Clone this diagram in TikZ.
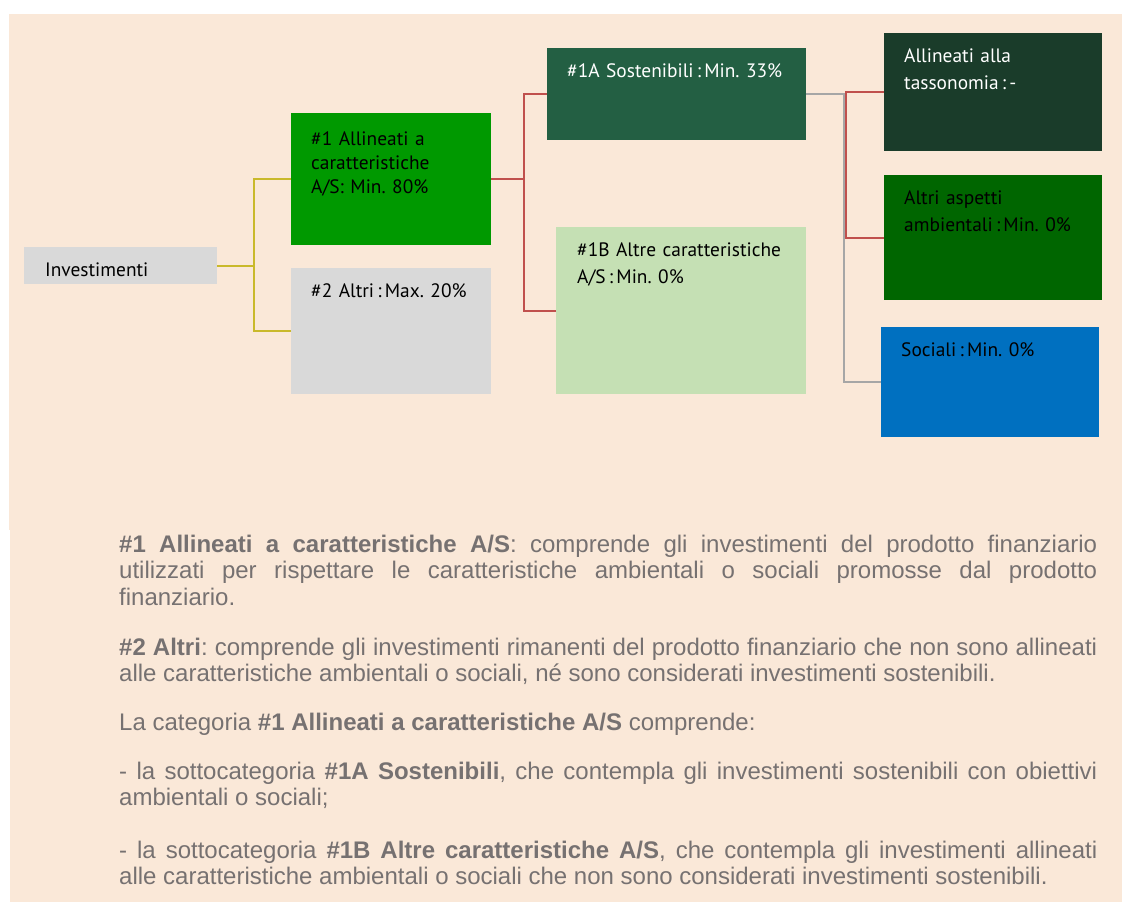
\documentclass[tikz,border=0pt]{standalone}
\usepackage{fontspec}
\setmainfont{Liberation Sans}
\newfontfamily\boxfont{PT Sans}
\definecolor{bgbeige}{HTML}{FAE8D8}
\definecolor{grone}{HTML}{009900}
\definecolor{grtwo}{HTML}{D9D9D9}
\definecolor{sosten}{HTML}{235F43}
\definecolor{altre}{HTML}{C5E0B4}
\definecolor{tasso}{HTML}{1A3C2A}
\definecolor{ambie}{HTML}{006600}
\definecolor{socia}{HTML}{0070C0}
\definecolor{lnyel}{HTML}{C9B92B}
\definecolor{lnred}{HTML}{C0504D}
\definecolor{lngry}{HTML}{A6A6A6}
\definecolor{txtgry}{HTML}{767171}
\frenchspacing
\begin{document}
\begin{tikzpicture}[x=1pt,y=-1pt,
    box/.style={anchor=north west, inner sep=0pt, draw=none},
    boxtxt/.style={anchor=base west, inner sep=0pt, align=left, text width=190pt,
        font={\boxfont\fontsize{19.4}{24}\selectfont}},
    para/.style={anchor=base west, inner sep=0pt, align=justify, text width=978pt, text=txtgry,
        font={\fontsize{24}{26.7}\selectfont\hyphenpenalty=10000\tolerance=10000}},
    ylw/.style={draw=lnyel, line width=2pt},
    rd/.style={draw=lnred, line width=2pt},
    gry/.style={draw=lngry, line width=2pt}]

    \useasboundingbox (0,0) rectangle (1122,902);
    \fill[bgbeige] (9,14) rectangle (1122,530);
    \fill[bgbeige] (10,530) rectangle (1122,902);

    % boxes
    \node[box, fill=grtwo, minimum width=193pt, minimum height=37pt] (inv) at (24,247) {};
    \node[box, fill=grone, minimum width=200pt, minimum height=132pt] (a1) at (291,113) {};
    \node[box, fill=grtwo, minimum width=200pt, minimum height=126pt] (a2) at (291,268) {};
    \node[box, fill=sosten, minimum width=259pt, minimum height=92pt] (s1a) at (547,48) {};
    \node[box, fill=altre, minimum width=250pt, minimum height=167pt] (s1b) at (556,227) {};
    \node[box, fill=tasso, minimum width=218pt, minimum height=118pt] (tax) at (884,33) {};
    \node[box, fill=ambie, minimum width=218pt, minimum height=125pt] (amb) at (884,175) {};
    \node[box, fill=socia, minimum width=218pt, minimum height=110pt] (soc) at (881,327) {};

    \node[boxtxt] (invt) at (45,276) {Investimenti};
    \node[boxtxt] (a1t) at (311,145) {\#1 Allineati a\\caratteristiche\\A/S: Min. 80\%};
    \node[boxtxt] (a2t) at (311,297) {\#2 Altri\,:\,Max. 20\%};
    \node[boxtxt, text=white, text width=240pt] (s1at) at (567,77) {\#1A Sostenibili\,:\,Min. 33\%};
    \node[boxtxt, text width=230pt, font={\boxfont\fontsize{19.4}{27.3}\selectfont}] (s1bt) at (577,256) {\#1B Altre caratteristiche\\A/S\,:\,Min. 0\%};
    \node[boxtxt, text=white, font={\boxfont\fontsize{19.4}{27.7}\selectfont}] (taxt) at (904,62) {Allineati alla\\tassonomia\,:\,-};
    \node[boxtxt, font={\boxfont\fontsize{19.4}{27.7}\selectfont}] (ambt) at (904,204) {Altri aspetti\\ambientali\,:\,Min. 0\%};
    \node[boxtxt] (soct) at (901,356) {Sociali\,:\,Min. 0\%};

    % connectors
    \coordinate (j1) at ([xshift=37pt]inv.east);
    \coordinate (j2) at ([xshift=33pt]a1.east);
    \coordinate (j3) at ([xshift=38pt]s1a.east);
    \coordinate (j4) at ([xshift=-38pt]tax.west);
    \draw[ylw] (inv.east) -- (j1);
    \draw[ylw] (a1.west) -| (j1);
    \draw[ylw] (a2.west) -| (j1);
    \draw[rd] (a1.east) -- (j2);
    \draw[rd] (s1a.west) -| (j2);
    \draw[rd] (s1b.west) -| (j2);
    \draw[gry] (s1a.east) -- (j3) |- (soc.west);
    \draw[rd] (tax.west) -- (j4) |- (amb.west);

    % notes
    \node[para] (p1) at (119,552) {\textbf{\#1 Allineati a caratteristiche A/S}: comprende gli investimenti del prodotto finanziario\linebreak utilizzati per rispettare le caratteristiche ambientali o sociali promosse dal prodotto\linebreak finanziario.};
    \node[para] (p2) at (119,655) {\textbf{\#2 Altri}: comprende gli investimenti rimanenti del prodotto finanziario che non sono allineati\linebreak alle caratteristiche ambientali o sociali, né sono considerati investimenti sostenibili.};
    \node[para] (p3) at (119,730) {La categoria \textbf{\#1 Allineati a caratteristiche A/S} comprende:};
    \node[para] (p4) at (119,779) {- la sottocategoria \textbf{\#1A Sostenibili}, che contempla gli investimenti sostenibili con obiettivi\linebreak ambientali o sociali;};
    \node[para] (p5) at (119,858) {- la sottocategoria \textbf{\#1B Altre caratteristiche A/S}, che contempla gli investimenti allineati\linebreak alle caratteristiche ambientali o sociali che non sono considerati investimenti sostenibili.};

\end{tikzpicture}
\end{document}
